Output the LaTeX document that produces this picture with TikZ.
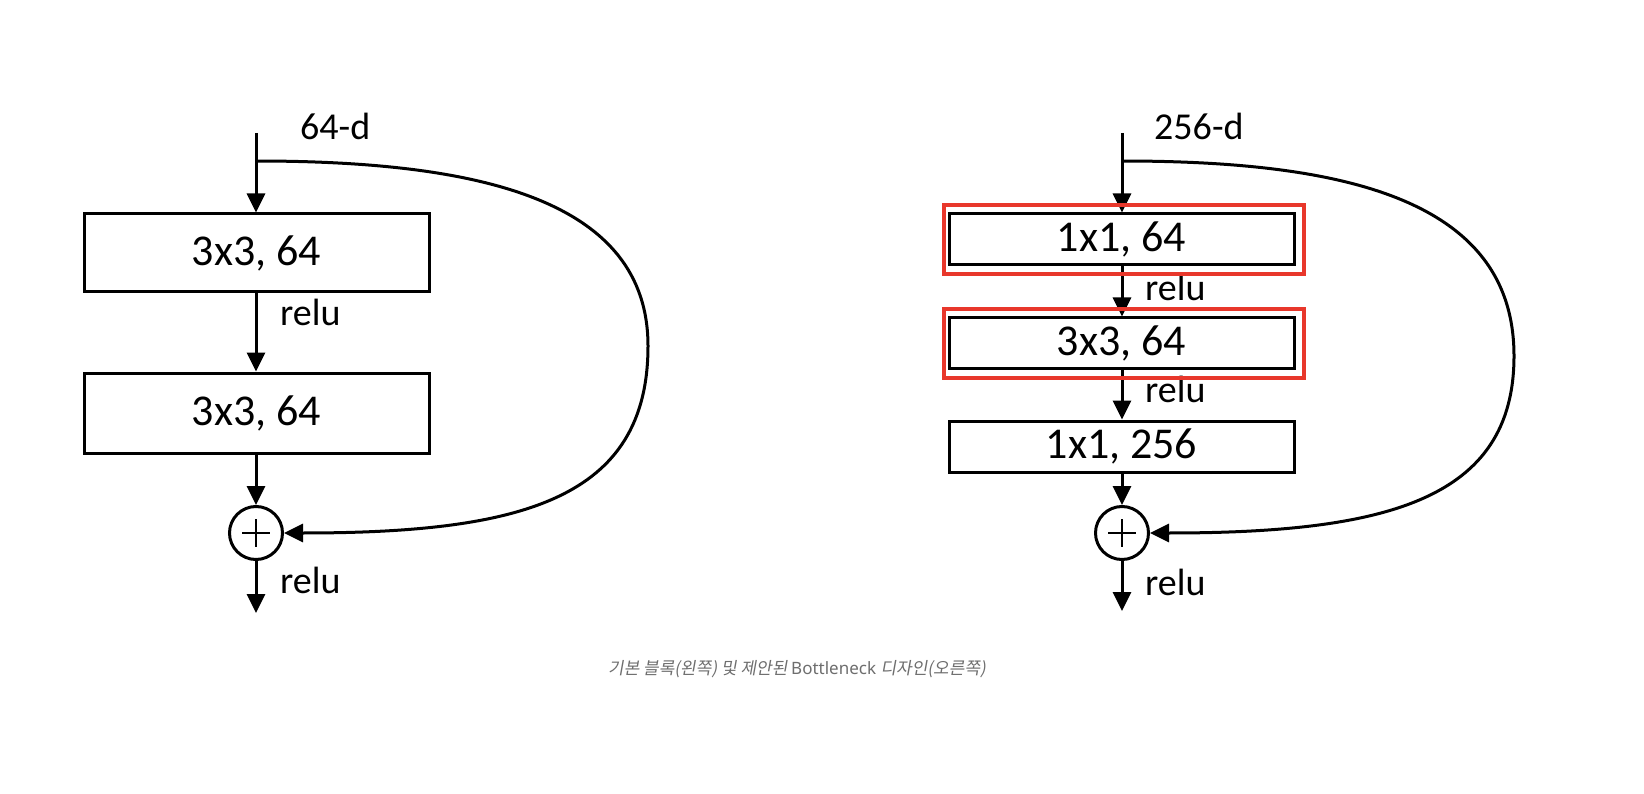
\documentclass[tikz,border=0pt]{standalone}
\usepackage{fontspec}
\setmainfont{Carlito}
\newfontfamily\krfont[FakeSlant=0.18]{Noto Sans CJK KR}
\newfontfamily\capsans{Noto Sans}
\usetikzlibrary{arrows.meta}
\definecolor{hl}{HTML}{E8372B}
\definecolor{capgray}{HTML}{6E6E6E}
\begin{document}
\begin{tikzpicture}[x=1pt,y=-1pt,
  conv/.style={draw, line width=3pt, minimum width=345pt, inner sep=0pt, font=\fontsize{44}{44}\selectfont},
  lbl/.style={anchor=west, inner sep=0pt, font=\fontsize{38}{38}\selectfont},
  arr/.style={line width=3pt, -{Triangle[length=19pt,width=18pt]}},
  sumnode/.style={circle, draw, line width=3pt, minimum size=53pt, inner sep=0pt},
  plusline/.style={line width=2.8pt},
  redbox/.style={draw=hl, line width=4pt}]
\useasboundingbox (0,0) rectangle (1644,794);
\fill[white] (0,0) rectangle (1644,794);

% ---------- left: basic block ----------
\coordinate (ltop) at (256,133);
\coordinate (ls) at (256,161);
\node[conv, minimum height=78pt] (la) at (256.5,253) {3x3, 64};
\node[conv, minimum height=80pt] (lb) at (256.5,413) {3x3, 64};
\node[sumnode] (lsum) at (256,533) {};
\coordinate (lout) at (256,613);
\node[lbl] (ldim) at (300,126) {64-d};
\node[lbl] (lr1) at (280,312) {relu};
\node[lbl] (lr2) at (280,580) {relu};

\draw[arr] (ltop) -- (la.north -| ltop);
\draw[arr] (la.south -| ltop) -- (lb.north -| ltop);
\draw[arr] (lb.south -| ltop) -- (lsum.north);
\draw[arr] (lsum.south) -- (lout);
\draw[plusline] (lsum.center) +(-14,0) -- +(14,0) (lsum.center) +(0,-14) -- +(0,14);
\draw[arr] (ls) .. controls (480,161) and (648,200) .. (648,346)
               .. controls (648,500) and (520,533) .. (lsum.east);

% ---------- right: bottleneck ----------
\coordinate (rtop) at (1122,133);
\coordinate (rs) at (1122,161);
\node[conv, minimum height=51pt] (ra) at (1121.5,239.5) {1x1, 64};
\node[conv, minimum height=50pt] (rb) at (1121.5,343) {3x3, 64};
\node[conv, minimum height=51pt] (rc) at (1121.5,446.5) {1x1, 256};
\node[sumnode] (rsum) at (1122,533) {};
\coordinate (rout) at (1122,611);
\node[lbl] (rdim) at (1154,126) {256-d};
\node[lbl] (rr1) at (1145,287) {relu};
\node[lbl] (rr2) at (1145,389) {relu};
\node[lbl] (rr3) at (1145,582) {relu};

\draw[arr] (rtop) -- (ra.north -| rtop);
\draw[arr] (ra.south -| rtop) -- (rb.north -| rtop);
\draw[arr] (rb.south -| rtop) -- (rc.north -| rtop);
\draw[arr] (rc.south -| rtop) -- (rsum.north);
\draw[arr] (rsum.south) -- (rout);
\draw[plusline] (rsum.center) +(-14,0) -- +(14,0) (rsum.center) +(0,-14) -- +(0,14);
\draw[arr] (rs) .. controls (1346,161) and (1514,200) .. (1514,356)
               .. controls (1514,500) and (1386,533) .. (rsum.east);

% highlight boxes
\draw[redbox] (944,205) rectangle (1304,274);
\draw[redbox] (944,309) rectangle (1304,378);

% caption
\node[inner sep=0pt, text=capgray, font=\fontsize{17}{17}\selectfont] (cap) at (797,669)
  {\krfont 기본 블록(왼쪽) 및 제안된 \capsans Bottleneck \krfont 디자인(오른쪽)};
\end{tikzpicture}
\end{document}
